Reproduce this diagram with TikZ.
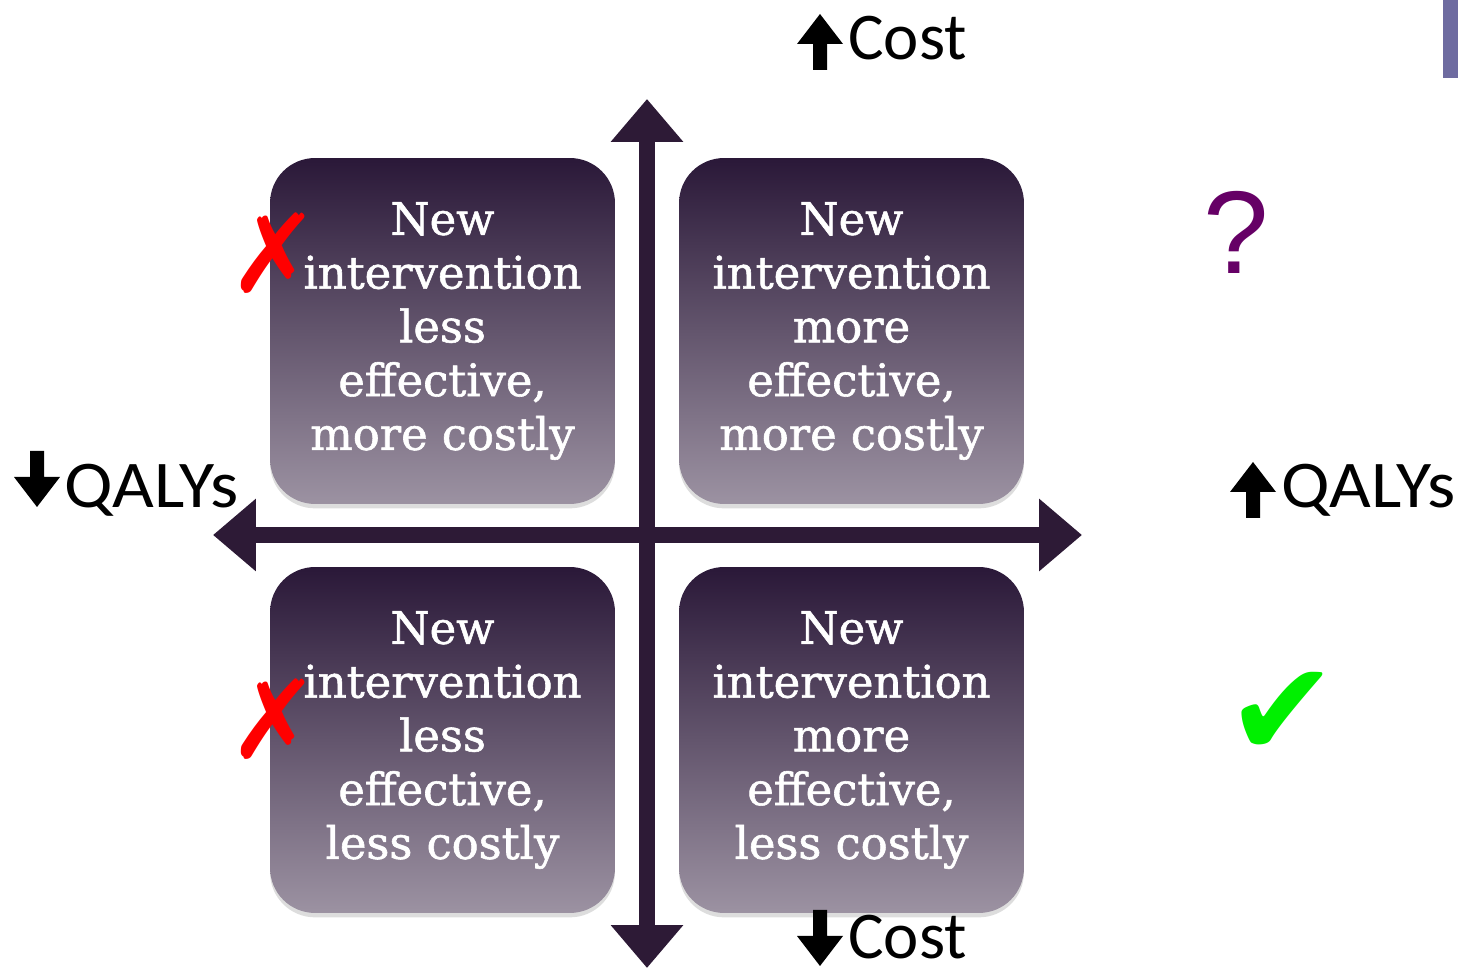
\documentclass[tikz,border=0pt]{standalone}
\usepackage{fontspec}
\setmainfont{DejaVu Serif}[FakeBold=1.3]
\newfontfamily\labelfont{Carlito}
\newfontfamily\symfont{DejaVu Sans}
\newfontfamily\qfont{Liberation Sans}
\usetikzlibrary{arrows.meta,shadows}

\definecolor{axiscol}{HTML}{2D1A36}
\definecolor{boxtop}{HTML}{2A1838}
\definecolor{boxbot}{HTML}{9C92A2}
\definecolor{qcol}{HTML}{660066}
\definecolor{okcol}{HTML}{00F000}
\definecolor{barcol}{HTML}{6E6BA0}

\tikzset{
  quad/.style={
    rounded corners=0.9cm, minimum width=6.9cm, minimum height=6.92cm,
    top color=boxtop, bottom color=boxbot, shading angle=0,
    text=white, align=center, inner sep=0pt,
    font=\fontsize{25.5pt}{30.6pt}\selectfont,
    drop shadow={shadow xshift=0pt, shadow yshift=-2.5pt, opacity=0.22, fill=black!60}
  },
  axis/.style={
    draw=axiscol, line width=0.32cm,
    {Triangle[width=1.4cm,length=0.86cm]}-{Triangle[width=1.4cm,length=0.86cm]}
  },
  lbl/.style={font=\labelfont\fontsize{38pt}{40pt}\selectfont, inner sep=0pt, anchor=base west},
  qlbl/.style={lbl, font=\labelfont\addfontfeature{FakeStretch=1.08}\fontsize{38pt}{40pt}\selectfont},
  barrow/.pic={
    \fill[black] (0,0) -- (23,30) -- (7,30) -- (7,56) -- (-7,56) -- (-7,30) -- (-23,30) -- cycle;
  }
}

\begin{document}
\begin{tikzpicture}[x=0.02cm, y=-0.02cm]
\useasboundingbox (0,0) rectangle (1458,972);

% corner bar
\fill[barcol] (1443,0) rectangle (1458,78);

% quadrant boxes
\node[quad] (tl) at (442.5,331) {New\\intervention\\less\\effective,\\more costly};
\node[quad] (tr) at (851.5,331) {New\\intervention\\more\\effective,\\more costly};
\node[quad] (bl) at (442.5,740) {New\\intervention\\less\\effective,\\less costly};
\node[quad] (br) at (851.5,740) {New\\intervention\\more\\effective,\\less costly};

% axes
\coordinate (xl) at (213,535);
\coordinate (xr) at (1082,535);
\coordinate (yt) at (647,99);
\coordinate (yb) at (647,968);
\draw[axis] (xl) -- (xr);
\draw[axis] (yt) -- (yb);

% axis labels
\pic at (820,14) {barrow};
\node[lbl] (costup) at (848,60) {Cost};
\pic[yscale=-1] at (820,966) {barrow};
\node[lbl] (costdown) at (848,959) {\raisebox{0pt}[\height][0pt]{Cost}};
\pic[yscale=-1] at (37,507) {barrow};
\node[qlbl] (qalyleft) at (64,508) {QALYs};
\pic at (1253,462) {barrow};
\node[qlbl] (qalyright) at (1281,508) {QALYs};

% verdict marks
\node[text=red, font=\symfont\fontsize{62pt}{62pt}\selectfont, inner sep=0pt] (xtop) at (274,253) {✗};
\node[text=red, font=\symfont\fontsize{62pt}{62pt}\selectfont, inner sep=0pt] (xbot) at (274,719) {✗};
\node[text=qcol, font=\qfont\fontsize{67pt}{67pt}\selectfont, inner sep=0pt, anchor=base] (qmark) at (1236,274) {?};
\node[text=okcol, font=\symfont\fontsize{76pt}{76pt}\selectfont, inner sep=0pt] (check) at (1282,714) {✔};
\end{tikzpicture}
\end{document}
